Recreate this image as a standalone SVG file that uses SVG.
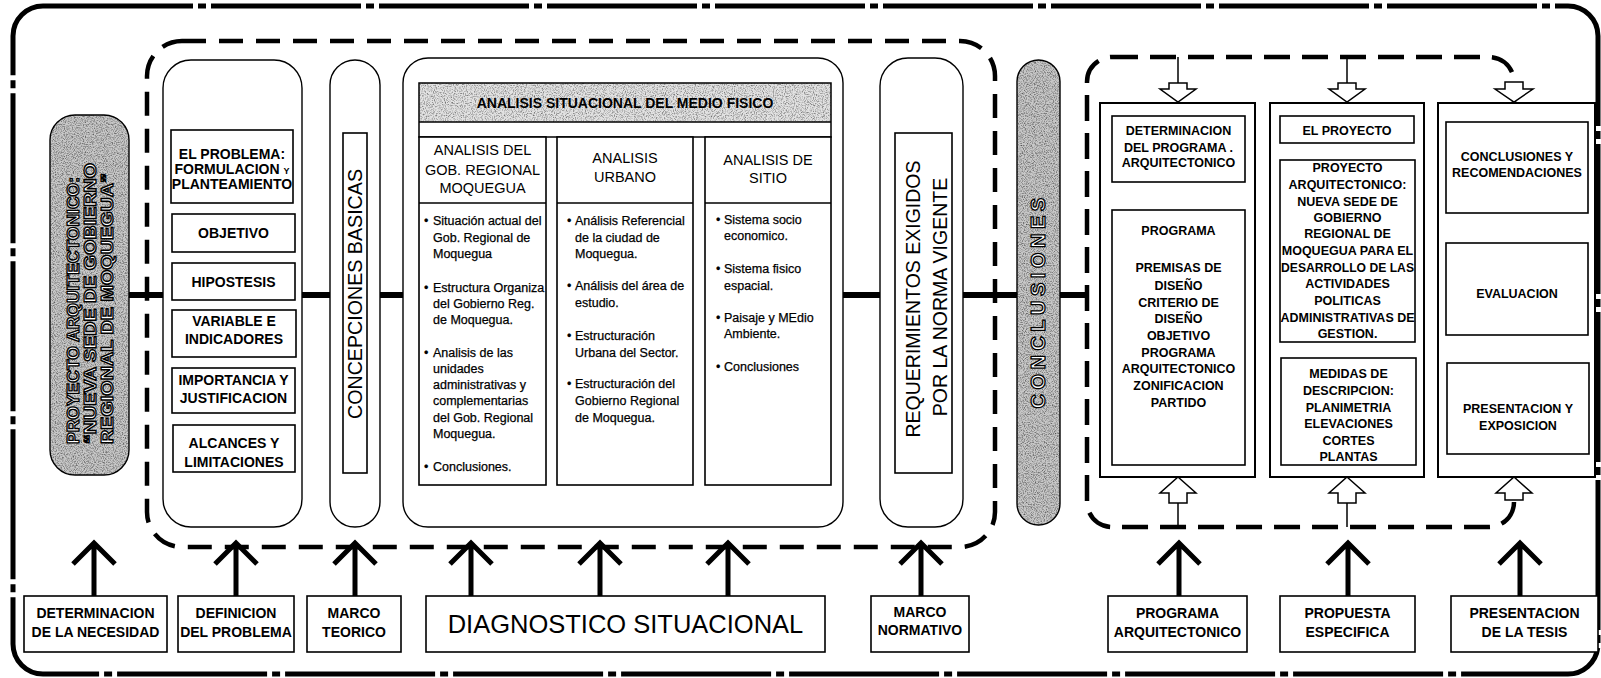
<svg xmlns="http://www.w3.org/2000/svg" width="1601" height="678" viewBox="0 0 1601 678">
<defs>
<style>
.t{font-family:'Liberation Sans',Arial,sans-serif;font-weight:bold;font-size:14px;text-anchor:middle;fill:#000}
.s{font-size:12.5px}
.bl{font-family:'Liberation Sans',Arial,sans-serif;font-size:12.5px;fill:#000;stroke:#000;stroke-width:0.25}
.hd{font-family:'Liberation Sans',Arial,sans-serif;font-size:14.5px;text-anchor:middle;fill:#000}
.big{font-family:'Liberation Sans',Arial,sans-serif;font-size:19.5px;text-anchor:middle;fill:#000}
.out{font-family:'Liberation Sans',Arial,sans-serif;font-weight:bold;fill:#fff;stroke:#000;stroke-width:1.3}
.box{fill:#fff;stroke:#000;stroke-width:1.6}
.pill{fill:#fff;stroke:#000;stroke-width:1.4}
.gray{fill:#c8c8c8}
.lgray{fill:#e2e2e2}
.dash{fill:none;stroke:#000;stroke-width:4.5;stroke-dasharray:24 13}
.outer{fill:none;stroke:#000;stroke-width:5;stroke-dasharray:150 5 8 5}
.conn{stroke:#000;stroke-width:6;fill:none}
.up{stroke:#000;stroke-width:5;fill:none}
.blk{fill:#fff;stroke:#000;stroke-width:1.5}
.stem{stroke:#000;stroke-width:1.5;fill:none}
</style>
<filter id="grain" x="0" y="0" width="100%" height="100%" color-interpolation-filters="sRGB">
<feTurbulence type="fractalNoise" baseFrequency="0.9" numOctaves="2" seed="7" result="n"/>
<feColorMatrix in="n" type="matrix" values="0 0 0 0 0.2  0 0 0 0 0.2  0 0 0 0 0.2  1.7 0 0 0 -0.72" result="dots"/>
<feComposite in="dots" in2="SourceGraphic" operator="in" result="d"/>
<feMerge><feMergeNode in="SourceGraphic"/><feMergeNode in="d"/></feMerge>
</filter>
<filter id="grain2" x="0" y="0" width="100%" height="100%" color-interpolation-filters="sRGB">
<feTurbulence type="fractalNoise" baseFrequency="0.9" numOctaves="2" seed="3" result="n"/>
<feColorMatrix in="n" type="matrix" values="0 0 0 0 0.3  0 0 0 0 0.3  0 0 0 0 0.3  1.8 0 0 0 -0.8" result="dots"/>
<feComposite in="dots" in2="SourceGraphic" operator="in" result="d"/>
<feMerge><feMergeNode in="SourceGraphic"/><feMergeNode in="d"/></feMerge>
</filter>
</defs>
<rect x="0" y="0" width="1601" height="678" fill="#fff"/>

<g id="frames">
<rect class="outer" x="13" y="6" width="1585" height="668" rx="30"/>
<rect class="dash" x="147" y="41" width="848" height="506" rx="35"/>
<rect class="dash" x="1087" y="57" width="427" height="470" rx="25" style="stroke-dasharray:26 12"/>
</g>

<g id="proyecto">
<rect class="gray" x="50" y="115" width="79" height="360" rx="25" filter="url(#grain)"/>
<rect x="50" y="115" width="79" height="360" rx="25" fill="none" stroke="#000" stroke-width="1.4"/>
<text class="out" font-size="17" transform="translate(79,444) rotate(-90)" textLength="267" lengthAdjust="spacingAndGlyphs">PROYECTO ARQUITECTONICO:</text>
<text class="out" font-size="17" transform="translate(96,444) rotate(-90)" textLength="281" lengthAdjust="spacingAndGlyphs">“NUEVA SEDE DE GOBIERNO</text>
<text class="out" font-size="17" transform="translate(113,444) rotate(-90)" textLength="271" lengthAdjust="spacingAndGlyphs">REGIONAL DE MOQUEGUA”</text>
</g>

<g id="problema">
<rect class="pill" x="163" y="60" width="139" height="467" rx="28"/>
<rect class="box" x="171" y="130" width="122" height="73"/>
<text class="t" x="232" y="159">EL PROBLEMA:</text>
<text class="t" x="232" y="174">FORMULACION <tspan font-size="9">Y</tspan></text>
<text class="t" x="232" y="189">PLANTEAMIENTO</text>
<rect class="box" x="172" y="214" width="123" height="38"/>
<text class="t" x="233.5" y="238">OBJETIVO</text>
<rect class="box" x="172" y="263" width="123" height="37"/>
<text class="t" x="233.5" y="287">HIPOSTESIS</text>
<rect class="box" x="172" y="310" width="124" height="47"/>
<text class="t" x="234" y="326">VARIABLE E</text>
<text class="t" x="234" y="344">INDICADORES</text>
<rect class="box" x="172" y="368" width="123" height="45"/>
<text class="t" x="233.5" y="385">IMPORTANCIA Y</text>
<text class="t" x="233.5" y="403">JUSTIFICACION</text>
<rect class="box" x="173" y="425" width="122" height="47"/>
<text class="t" x="234" y="448">ALCANCES Y</text>
<text class="t" x="234" y="467">LIMITACIONES</text>
</g>

<g id="concepciones">
<rect class="pill" x="330" y="60" width="50" height="467" rx="25"/>
<rect class="box" x="343" y="133" width="24" height="340"/>
<text class="big" transform="translate(362,294) rotate(-90)" textLength="250" lengthAdjust="spacingAndGlyphs">CONCEPCIONES BASICAS</text>
</g>

<g id="analisis">
<rect class="pill" x="403" y="58" width="440" height="469" rx="25"/>
<rect class="lgray" x="419" y="83" width="412" height="39" filter="url(#grain2)"/>
<rect x="419" y="83" width="412" height="54" fill="none" stroke="#000" stroke-width="1.5"/>
<line x1="419" y1="122" x2="831" y2="122" stroke="#000" stroke-width="1.5"/>
<text class="t" x="625" y="107.5" font-size="13.5">ANALISIS SITUACIONAL DEL MEDIO FISICO</text>
<rect class="box" x="419" y="137" width="127" height="348"/>
<line x1="419" y1="203" x2="546" y2="203" stroke="#000" stroke-width="1.6"/>
<rect class="box" x="557" y="137" width="136" height="348"/>
<line x1="557" y1="203" x2="693" y2="203" stroke="#000" stroke-width="1.6"/>
<rect class="box" x="705" y="137" width="126" height="348"/>
<line x1="705" y1="203" x2="831" y2="203" stroke="#000" stroke-width="1.6"/>
<text class="hd" x="482.5" y="155">ANALISIS DEL</text>
<text class="hd" x="482.5" y="175">GOB. REGIONAL</text>
<text class="hd" x="482.5" y="193">MOQUEGUA</text>
<text class="hd" x="625" y="163">ANALISIS</text>
<text class="hd" x="625" y="182">URBANO</text>
<text class="hd" x="768" y="165">ANALISIS DE</text>
<text class="hd" x="768" y="183">SITIO</text>
<g class="bl">
<text x="424" y="224.5">•</text><text x="433" y="224.5">Situación actual del</text>
<text x="433" y="241.5">Gob. Regional de</text>
<text x="433" y="257.5">Moquegua</text>
<text x="424" y="291.5">•</text><text x="433" y="291.5">Estructura Organiza</text>
<text x="433" y="307.5">del Gobierno Reg.</text>
<text x="433" y="323.5">de Moquegua.</text>
<text x="424" y="356.5">•</text><text x="433" y="356.5">Analisis de las</text>
<text x="433" y="372.5">unidades</text>
<text x="433" y="388.5">administrativas y</text>
<text x="433" y="404.5">complementarias</text>
<text x="433" y="421.5">del Gob. Regional</text>
<text x="433" y="437.5">Moquegua.</text>
<text x="424" y="470.5">•</text><text x="433" y="470.5">Conclusiones.</text>
<text x="567" y="224.5">•</text><text x="575" y="224.5">Análisis Referencial</text>
<text x="575" y="241.5">de la ciudad de</text>
<text x="575" y="257.5">Moquegua.</text>
<text x="567" y="289.5">•</text><text x="575" y="289.5">Análisis del área de</text>
<text x="575" y="306.5">estudio.</text>
<text x="567" y="339.5">•</text><text x="575" y="339.5">Estructuración</text>
<text x="575" y="356.5">Urbana del Sector.</text>
<text x="567" y="387.5">•</text><text x="575" y="387.5">Estructuración del</text>
<text x="575" y="404.5">Gobierno Regional</text>
<text x="575" y="421.5">de Moquegua.</text>
<text x="716" y="223.5">•</text><text x="724" y="223.5">Sistema socio</text>
<text x="724" y="239.5">economico.</text>
<text x="716" y="272.5">•</text><text x="724" y="272.5">Sistema fisico</text>
<text x="724" y="289.5">espacial.</text>
<text x="716" y="321.5">•</text><text x="724" y="321.5">Paisaje y MEdio</text>
<text x="724" y="337.5">Ambiente.</text>
<text x="716" y="370.5">•</text><text x="724" y="370.5">Conclusiones</text>
</g>
</g>

<g id="requerimientos">
<rect class="pill" x="880" y="58" width="83" height="469" rx="28"/>
<rect class="box" x="895" y="133" width="57" height="340"/>
<text class="big" font-size="19" transform="translate(920,299) rotate(-90)">REQUERIMIENTOS EXIGIDOS</text>
<text class="big" font-size="19" transform="translate(947,297) rotate(-90)">POR LA NORMA VIGENTE</text>
</g>

<g id="conclusiones">
<rect class="gray" x="1017" y="60" width="43" height="465" rx="21.5" filter="url(#grain)"/>
<rect x="1017" y="60" width="43" height="465" rx="21.5" fill="none" stroke="#000" stroke-width="1.4"/>
<text class="out" font-size="20" text-anchor="middle" transform="translate(1045,301) rotate(-90)" letter-spacing="4.5">CONCLUSIONES</text>
</g>

<g id="programa-col">
<rect class="box" x="1100" y="103" width="155" height="374" style="stroke-width:2"/>
<rect class="box" x="1112" y="116" width="133" height="66"/>
<g class="t s">
<text x="1178.5" y="134.5">DETERMINACION</text>
<text x="1178.5" y="151.5">DEL PROGRAMA .</text>
<text x="1178.5" y="166.5">ARQUITECTONICO</text>
</g>
<rect class="box" x="1112" y="210" width="133" height="255"/>
<g class="t s">
<text x="1178.5" y="234.5">PROGRAMA</text>
<text x="1178.5" y="271.5">PREMISAS DE</text>
<text x="1178.5" y="289.5">DISEÑO</text>
<text x="1178.5" y="306.5">CRITERIO DE</text>
<text x="1178.5" y="322.5">DISEÑO</text>
<text x="1178.5" y="339.5">OBJETIVO</text>
<text x="1178.5" y="356.5">PROGRAMA</text>
<text x="1178.5" y="372.5">ARQUITECTONICO</text>
<text x="1178.5" y="389.5">ZONIFICACION</text>
<text x="1178.5" y="406.5">PARTIDO</text>
</g>
</g>

<g id="proyecto-col">
<rect class="box" x="1270" y="103" width="154" height="374" style="stroke-width:2"/>
<rect class="box" x="1280" y="116" width="134" height="27"/>
<text class="t s" x="1347" y="134.5">EL PROYECTO</text>
<rect class="box" x="1280" y="160" width="135" height="182"/>
<g class="t s">
<text x="1347.5" y="171.5">PROYECTO</text>
<text x="1347.5" y="188.5">ARQUITECTONICO:</text>
<text x="1347.5" y="205.5">NUEVA SEDE DE</text>
<text x="1347.5" y="221.5">GOBIERNO</text>
<text x="1347.5" y="237.5">REGIONAL DE</text>
<text x="1347.5" y="254.5">MOQUEGUA PARA EL</text>
<text x="1347.5" y="271.5" textLength="133" lengthAdjust="spacingAndGlyphs">DESARROLLO DE LAS</text>
<text x="1347.5" y="287.5">ACTIVIDADES</text>
<text x="1347.5" y="304.5">POLITICAS</text>
<text x="1347.5" y="321.5" textLength="134" lengthAdjust="spacingAndGlyphs">ADMINISTRATIVAS DE</text>
<text x="1347.5" y="337.5">GESTION.</text>
</g>
<rect class="box" x="1281" y="358" width="135" height="107"/>
<g class="t s">
<text x="1348.5" y="377.5">MEDIDAS DE</text>
<text x="1348.5" y="394.5">DESCRIPCION:</text>
<text x="1348.5" y="411.5">PLANIMETRIA</text>
<text x="1348.5" y="427.5">ELEVACIONES</text>
<text x="1348.5" y="444.5">CORTES</text>
<text x="1348.5" y="460.5">PLANTAS</text>
</g>
</g>

<g id="tesis-col">
<rect class="box" x="1438" y="103" width="157" height="374" style="stroke-width:2"/>
<rect class="box" x="1446" y="122" width="142" height="91"/>
<text class="t s" x="1517" y="160.5">CONCLUSIONES Y</text>
<text class="t s" x="1517" y="176.5">RECOMENDACIONES</text>
<rect class="box" x="1446" y="243" width="142" height="92"/>
<text class="t s" x="1517" y="297.5">EVALUACION</text>
<rect class="box" x="1447" y="363" width="142" height="91"/>
<text class="t s" x="1518" y="412.5">PRESENTACION Y</text>
<text class="t s" x="1518" y="429.5">EXPOSICION</text>
</g>

<g id="bottom-labels">
<g id="b-necesidad"><rect class="box" x="24" y="596" width="143" height="56"/>
<text class="t" x="95.5" y="618">DETERMINACION</text><text class="t" x="95.5" y="637">DE LA NECESIDAD</text></g>
<g id="b-problema"><rect class="box" x="178" y="596" width="116" height="56"/>
<text class="t" x="236" y="618">DEFINICION</text><text class="t" x="236" y="637">DEL PROBLEMA</text></g>
<g id="b-teorico"><rect class="box" x="307" y="596" width="94" height="56"/>
<text class="t" x="354" y="618">MARCO</text><text class="t" x="354" y="637">TEORICO</text></g>
<g id="b-diagnostico"><rect class="box" x="426" y="596" width="399" height="56"/>
<text x="625.5" y="633" font-family="'Liberation Sans',Arial,sans-serif" font-size="25.5" text-anchor="middle">DIAGNOSTICO SITUACIONAL</text></g>
<g id="b-normativo"><rect class="box" x="871" y="596" width="98" height="56"/>
<text class="t" x="920" y="617" font-size="13">MARCO</text><text class="t" x="920" y="635" font-size="13">NORMATIVO</text></g>
<g id="b-programa"><rect class="box" x="1108" y="596" width="139" height="56"/>
<text class="t" x="1177.5" y="618">PROGRAMA</text><text class="t" x="1177.5" y="637">ARQUITECTONICO</text></g>
<g id="b-propuesta"><rect class="box" x="1280" y="596" width="135" height="56"/>
<text class="t" x="1347.5" y="618">PROPUESTA</text><text class="t" x="1347.5" y="637">ESPECIFICA</text></g>
<g id="b-tesis"><rect class="box" x="1451" y="596" width="147" height="56"/>
<text class="t" x="1524.5" y="618">PRESENTACION</text><text class="t" x="1524.5" y="637">DE LA TESIS</text></g>
</g>

<g id="connectors">
<line class="conn" x1="129" y1="295" x2="163" y2="295"/>
<line class="conn" x1="302" y1="295" x2="330" y2="295"/>
<line class="conn" x1="380" y1="295" x2="403" y2="295"/>
<line class="conn" x1="843" y1="295" x2="880" y2="295"/>
<line class="conn" x1="963" y1="295" x2="1017" y2="295"/>
<line class="conn" x1="1060" y1="295" x2="1087" y2="295"/>
<g class="up">
<path d="M94 596V546M73 564L94 543L115 564"/>
<path d="M236 596V546M215 564L236 543L257 564"/>
<path d="M355 596V546M334 564L355 543L376 564"/>
<path d="M471 596V546M450 564L471 543L492 564"/>
<path d="M600 596V546M579 564L600 543L621 564"/>
<path d="M728 596V546M707 564L728 543L749 564"/>
<path d="M921 596V546M900 564L921 543L942 564"/>
<path d="M1179 596V546M1158 564L1179 543L1200 564"/>
<path d="M1348 596V546M1327 564L1348 543L1369 564"/>
<path d="M1520 596V546M1499 564L1520 543L1541 564"/>
</g>
<line class="stem" x1="1178" y1="57" x2="1178" y2="83"/>
<line class="stem" x1="1347" y1="57" x2="1347" y2="83"/>
<path class="blk" d="M1169 83H1187V89H1196L1178 102L1160 89H1169Z"/>
<path class="blk" d="M1338 83H1356V89H1365L1347 102L1329 89H1338Z"/>
<path class="blk" d="M1505 82H1523V89H1533L1514 102L1495 89H1505Z"/>
<line class="stem" x1="1178" y1="503" x2="1178" y2="527"/>
<line class="stem" x1="1347" y1="503" x2="1347" y2="527"/>
<path class="blk" d="M1178 477L1196 493H1187V503H1169V493H1160Z"/>
<path class="blk" d="M1347 477L1365 493H1356V503H1338V493H1329Z"/>
<path class="blk" d="M1514 477L1532 493H1523V500H1505V493H1496Z"/>
</g>
</svg>
